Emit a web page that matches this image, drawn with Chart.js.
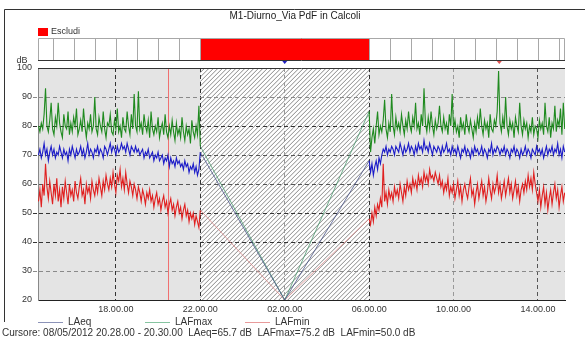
<!DOCTYPE html>
<html>
<head>
<meta charset="utf-8">
<script src="https://cdn.jsdelivr.net/npm/chart.js@4.4.0/dist/chart.umd.min.js"></script>
<style>
  html, body { margin: 0; padding: 0; background: #fff; }
  #wrap { width: 585px; height: 338px; }
</style>
</head>
<body>
<div id="wrap"><canvas id="grafico" width="585" height="338"></canvas></div>
<script>
// ore in decimali, il giorno dopo = +24
const inizioGiorno = 14 + 20 / 60;
const inizioMattino = 30;
const passo = 4 / 60;
const oraMinimo = 26;
const livelloMinimo = [20, 20, 20];
const oraCursore = 20 + 29 / 60;
const oraPicco = 36 + 10 / 60;
const esclusoDa = 22, esclusoA = 30;
const ticksOre = [18, 22, 26, 30, 34, 38];
const ticksEtichette = ['18.00.00', '22.00.00', '02.00.00', '06.00.00', '10.00.00', '14.00.00'];
const nomiSerie = ['LAeq', 'LAFmax', 'LAFmin'];

// 14:20 -> 22:00
const laeqGiorno = [70,72,69,71,74,70,72,68,71,73, 70,72,69,71,70,73,71,69,72,70,
  71,68,72,70,73,71,69,72,70,71, 73,70,72,69,71,74,70,72,71,69,
  72,71,73,70,72,71,69,73,72,70, 72,74,71,73,72,70,73,71,72,74,
  72,73,71,74,72,70,73,72,71,73, 71,72,70,71,72,69,71,70,72,69,
  70,71,68,70,69,71,68,69,70,67, 69,68,70,66,69,67,68,66,69,67,
  68,66,67,65,68,66,67,64,66,65, 67,64,66,63,65,71];
const lafmaxGiorno = [80,78,81,79,84,93,80,78,82,88, 79,77,83,80,88,81,78,76,84,80,
  79,85,77,81,78,83,80,86,77,79, 82,78,86,80,76,81,79,84,78,80,
  90,79,77,83,80,78,85,79,76,81, 80,84,78,77,82,79,86,78,80,76,
  83,79,78,85,80,77,84,79,91,80, 78,92,79,81,77,84,80,78,82,76,
  85,79,77,80,78,83,76,79,81,77, 84,78,76,80,77,82,78,75,81,77,
  79,76,83,78,75,80,77,79,74,82, 78,76,80,77,87,73];
const lafminGiorno = [54,58,52,60,56,67,59,55,61,57, 53,60,56,62,54,58,52,59,55,61,
  57,53,60,56,58,54,61,57,55,59, 62,56,58,53,60,57,59,55,61,58,
  56,60,57,62,59,56,61,58,63,60, 58,62,59,64,60,57,63,61,65,59,
  62,58,64,60,57,61,59,56,60,58, 55,59,57,54,58,56,53,57,55,58,
  54,56,52,55,57,53,55,51,54,56, 52,54,50,53,55,51,53,49,52,54,
  50,52,48,51,53,49,51,47,50,48, 50,46,49,47,45,51];

// 06:00 -> 15:16
const laeqMattino = [68,64,67,63,66,68,65,69,67,70, 72,71,73,70,72,71,73,72,70,73,
  72,71,74,72,70,73,71,72,74,71, 73,72,70,73,71,74,72,73,71,75,
  72,73,71,74,72,70,73,72,71,73, 72,70,73,71,72,74,71,72,70,73,
  71,72,70,73,71,69,72,71,73,70, 72,71,69,72,70,73,71,72,70,71,
  73,70,72,71,69,72,71,74,70,72, 71,73,72,70,72,71,73,70,72,71,
  69,72,71,73,70,72,71,69,72,70, 71,73,70,72,71,69,72,71,70,73,
  71,72,70,72,69,71,73,70,72,71, 73,70,72,71,74,70,72,69,73,71];
const lafmaxMattino = [85,71,76,79,74,80,85,77,80,78, 82,89,79,76,81,78,91,80,77,83,
  79,81,78,84,80,77,82,79,85,80, 78,83,80,88,79,81,77,84,80,93,
  81,78,83,79,85,80,77,82,79,81, 87,80,78,83,79,81,77,84,80,91,
  79,82,78,80,76,83,79,81,77,84, 80,78,82,79,76,81,78,83,79,86,
  80,77,82,79,81,76,84,79,78,82, 80,85,99,81,78,83,79,90,80,77,
  82,79,81,76,83,80,78,88,80,77, 82,79,81,76,80,78,83,77,80,79,
  76,82,79,81,77,88,80,78,83,76, 81,79,87,78,82,80,86,77,88,79];
const lafminMattino = [48,46,50,47,52,49,53,51,55,52, 67,54,57,53,58,55,57,54,59,56,
  58,55,60,57,54,59,56,61,58,60, 57,62,59,61,58,63,60,62,59,64,
  61,63,60,65,62,63,61,64,62,60, 63,59,61,57,60,58,62,56,59,57,
  60,55,58,61,56,59,54,58,60,57, 55,59,62,56,58,53,57,60,55,58,
  61,56,59,54,57,62,58,55,60,57, 59,63,57,60,55,58,61,56,59,62,
  57,60,55,58,61,56,59,54,58,60, 57,61,58,63,59,62,58,64,60,57,
  54,58,52,56,59,53,57,51,55,58, 53,57,60,55,58,52,56,59,54,57];

const FONT = '"Liberation Sans", Arial, sans-serif';

function serie(giorno, mattino, minimo) {
  const punti = giorno.map((v, i) => ({ x: inizioGiorno + i * passo, y: v }));
  punti.push({ x: oraMinimo, y: minimo });
  mattino.forEach((v, i) => punti.push({ x: inizioMattino + i * passo, y: v }));
  return punti;
}

function dataset(label, punti, colore, chiaro, legenda) {
  return {
    label: label,
    data: punti,
    borderColor: colore,
    borderWidth: 1.1,
    pointRadius: 0,
    tension: 0,
    legenda: legenda,
    segment: {
      borderColor: ctx => (ctx.p1.parsed.x - ctx.p0.parsed.x > 1) ? chiaro : undefined,
      borderWidth: ctx => (ctx.p1.parsed.x - ctx.p0.parsed.x > 1) ? 0.8 : undefined
    }
  };
}

const sfondo = {
  id: 'sfondo',
  beforeDraw(chart) {
    const { ctx, chartArea: a, scales: { x } } = chart;
    ctx.save();
    ctx.fillStyle = '#e4e4e4';
    ctx.fillRect(a.left, a.top, a.right - a.left, a.bottom - a.top);
    // zona esclusa tratteggiata
    const x0 = x.getPixelForValue(esclusoDa), x1 = x.getPixelForValue(esclusoA);
    ctx.fillStyle = '#ffffff';
    ctx.fillRect(x0, a.top, x1 - x0, a.bottom - a.top);
    ctx.beginPath();
    ctx.rect(x0, a.top, x1 - x0, a.bottom - a.top);
    ctx.clip();
    ctx.strokeStyle = '#6a6a6a';
    ctx.lineWidth = 0.8;
    ctx.beginPath();
    const h = a.bottom - a.top;
    for (let s = x0 - h; s < x1 + h; s += 4.5) {
      ctx.moveTo(s, a.bottom);
      ctx.lineTo(s + h, a.top);
    }
    ctx.stroke();
    ctx.restore();
  },
  beforeDatasetsDraw(chart) {
    const { ctx, chartArea: a, scales: { x } } = chart;
    const cx = Math.round(x.getPixelForValue(oraCursore)) + 0.5;
    ctx.save();
    ctx.strokeStyle = '#f07070';
    ctx.lineWidth = 1;
    ctx.beginPath();
    ctx.moveTo(cx, a.top);
    ctx.lineTo(cx, a.bottom);
    ctx.stroke();
    ctx.restore();
  },
  afterDraw(chart) {
    const { ctx, chartArea: a, scales: { x } } = chart;
    ctx.save();
    // cornice
    ctx.strokeStyle = '#333';
    ctx.lineWidth = 1;
    ctx.beginPath();
    ctx.moveTo(4.5, 322);
    ctx.lineTo(4.5, 9.5);
    ctx.lineTo(585, 9.5);
    ctx.stroke();

    ctx.fillStyle = '#222';
    ctx.font = '10px ' + FONT;
    ctx.textAlign = 'center';
    ctx.textBaseline = 'middle';
    ctx.fillText('M1-Diurno_Via PdF in Calcoli', 295, 16);

    // legenda Escludi
    ctx.fillStyle = '#ff0000';
    ctx.fillRect(38, 28, 10, 8);
    ctx.fillStyle = '#333';
    ctx.font = '9px ' + FONT;
    ctx.textAlign = 'left';
    ctx.fillText('Escludi', 51, 32);

    // banda oraria
    const by0 = 38, by1 = 60;
    ctx.fillStyle = '#fff';
    ctx.fillRect(a.left, by0, a.right - a.left, by1 - by0);
    const r0 = x.getPixelForValue(esclusoDa), r1 = x.getPixelForValue(esclusoA);
    ctx.fillStyle = '#ff0000';
    ctx.fillRect(r0, by0, r1 - r0, by1 - by0);
    ctx.strokeStyle = '#a8a8a8';
    ctx.beginPath();
    for (let o = 15; o < x.max; o++) {
      if (o > esclusoDa && o < esclusoA) continue;
      const px = Math.round(x.getPixelForValue(o)) + 0.5;
      ctx.moveTo(px, by0);
      ctx.lineTo(px, by1);
    }
    ctx.moveTo(a.left + 0.5, by1);
    ctx.lineTo(a.left + 0.5, by0 + 0.5);
    ctx.lineTo(a.right - 0.5, by0 + 0.5);
    ctx.lineTo(a.right - 0.5, by1);
    ctx.stroke();
    ctx.strokeStyle = '#333';
    ctx.beginPath();
    ctx.moveTo(a.left, by1 + 0.5);
    ctx.lineTo(a.right, by1 + 0.5);
    ctx.moveTo(a.left, a.top + 0.5);
    ctx.lineTo(a.right, a.top + 0.5);
    ctx.stroke();

    // marcatori
    const tri = (px, col) => {
      ctx.fillStyle = col;
      ctx.beginPath();
      ctx.moveTo(px - 2.5, 61);
      ctx.lineTo(px + 2.5, 61);
      ctx.lineTo(px, 64);
      ctx.closePath();
      ctx.fill();
    };
    tri(x.getPixelForValue(oraMinimo), '#2020c0');
    tri(x.getPixelForValue(oraPicco), '#e05050');

    ctx.fillStyle = '#333';
    ctx.textAlign = 'center';
    ctx.fillText('dB', 22, 61);

    // legenda serie
    const posLegenda = [38, 145, 245];
    chart.data.datasets.forEach((d, i) => {
      const lx = posLegenda[i];
      ctx.strokeStyle = d.legenda;
      ctx.beginPath();
      ctx.moveTo(lx, 322.5);
      ctx.lineTo(lx + 25, 322.5);
      ctx.stroke();
      ctx.fillStyle = '#333';
      ctx.textAlign = 'left';
      ctx.font = '10px ' + FONT;
      ctx.fillText(d.label, lx + 30, 322);
    });

    ctx.font = '10px ' + FONT;
    ctx.fillText('Cursore: 08/05/2012 20.28.00 - 20.30.00  LAeq=65.7 dB  LAFmax=75.2 dB  LAFmin=50.0 dB', 2, 333);
    ctx.restore();
  }
};

const coloriGrigliaY = { 90: '#8a8a8a', 80: '#333', 70: '#555', 60: '#555', 50: '#333', 40: '#333', 30: '#8a8a8a' };
const coloriGrigliaX = { 18: '#333', 22: '#333', 26: '#999', 30: '#333', 34: '#999', 38: '#555' };

new Chart(document.getElementById('grafico'), {
  type: 'line',
  data: {
    datasets: [
      dataset(nomiSerie[0], serie(laeqGiorno, laeqMattino, livelloMinimo[0]), '#1c1cc8', '#4a5488', '#8c93b8'),
      dataset(nomiSerie[1], serie(lafmaxGiorno, lafmaxMattino, livelloMinimo[1]), '#1f8a1f', '#4c9a70', '#86c4a0'),
      dataset(nomiSerie[2], serie(lafminGiorno, lafminMattino, livelloMinimo[2]), '#e02020', '#d88888', '#e89a9a')
    ]
  },
  options: {
    responsive: false,
    devicePixelRatio: 1,
    animation: false,
    events: [],
    layout: { padding: { left: 4, top: 68, right: 20, bottom: 24 } },
    plugins: { legend: { display: false }, tooltip: { enabled: false } },
    scales: {
      x: {
        type: 'linear',
        min: 14.31,
        max: 39.28,
        afterBuildTicks: s => { s.ticks = ticksOre.map(v => ({ value: v })); },
        afterFit: s => { s.height = 14; },
        ticks: {
          font: { size: 9, family: FONT },
          color: '#333',
          padding: 4,
          maxRotation: 0,
          callback: v => ticksEtichette[ticksOre.indexOf(v)]
        },
        grid: {
          drawTicks: false,
          color: c => coloriGrigliaX[c.tick && c.tick.value] || 'transparent'
        },
        border: { display: true, color: '#222', width: 1, dash: [4, 3] }
      },
      y: {
        min: 20,
        max: 100,
        afterFit: s => { s.width = 34; },
        ticks: {
          stepSize: 10,
          font: { size: 9, family: FONT },
          color: '#333',
          padding: 1
        },
        grid: {
          tickLength: 5,
          color: c => coloriGrigliaY[c.tick && c.tick.value] || 'transparent',
          tickBorderDash: [4, 3]
        },
        border: { display: true, color: '#888', width: 1, dash: [4, 3] }
      }
    }
  },
  plugins: [sfondo]
});
</script>
</body>
</html>
